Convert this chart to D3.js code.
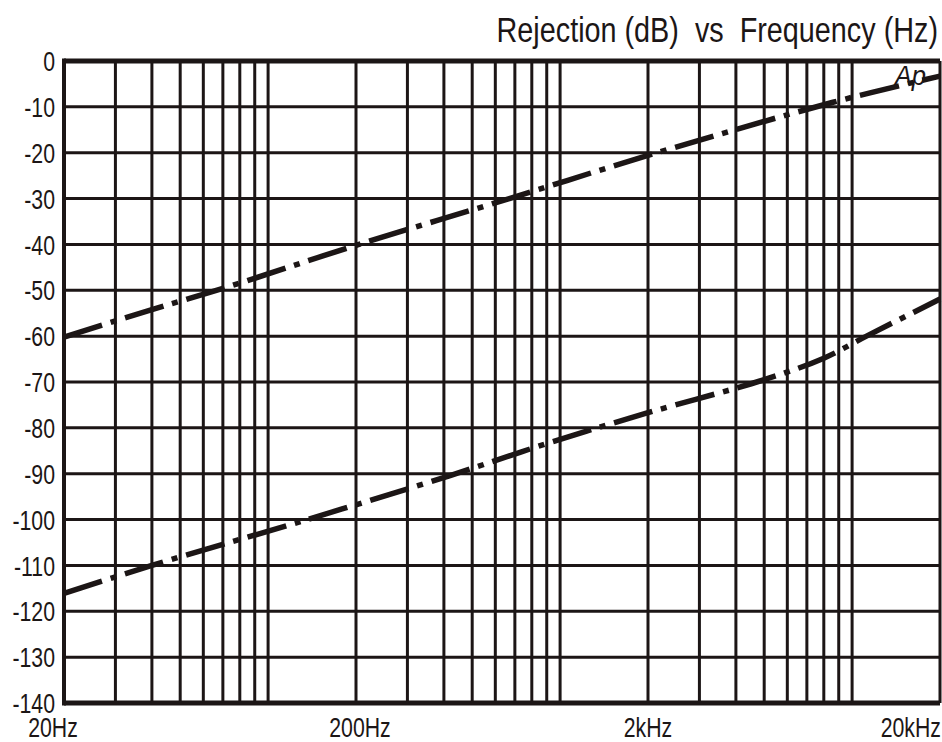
<!DOCTYPE html>
<html>
<head>
<meta charset="utf-8">
<script src="https://cdn.jsdelivr.net/npm/d3@7"></script>
<style>
  body { margin: 0; background: #fff; }
  text { font-family: "Liberation Sans", Arial, sans-serif; fill: #1c1616; }
</style>
</head>
<body>
<div class="chart"></div>
<script>
const svgWidth = 942;
const svgHeight = 742;

const margin = { top: 61, right: 2, bottom: 39, left: 64 };
const width = svgWidth - margin.left - margin.right;
const height = svgHeight - margin.top - margin.bottom;

const ink = '#1c1616';
// no narrow font installed, so squeeze the regular one sideways
const squeeze = 0.76;

// data
const xTickValues = [20, 200, 2000, 20000];
const xTickLabels = ['20Hz', '200Hz', '2kHz', '20kHz'];
const yTickValues = d3.range(0, -141, -10);

const upperFreq = [20, 40, 70, 200, 670, 2000, 8600, 20000];
const upperDb = [-60.2, -54.2, -49.6, -40.2, -30, -20.6, -9, -3.3];

const lowerFreq = [20, 40, 136, 420, 923, 2000, 5000, 8000, 11200, 20000];
const lowerDb = [-116.1, -110, -100, -90.4, -83.2, -76.7, -69.5, -64.8, -60, -51.9];

const svg = d3.select('.chart')
  .append('svg')
  .attr('width', svgWidth)
  .attr('height', svgHeight);

const chartGroup = svg.append('g')
  .attr('transform', `translate(${margin.left}, ${margin.top})`);

const x = d3.scaleLog().domain([20, 20000]).range([0, width]);
const y = d3.scaleLinear().domain([0, -140]).range([0, height]);

// vertical grid: 1..9 times each power of ten inside the range
const vLines = [];
[10, 100, 1000, 10000].forEach(base => {
  for (let k = 1; k <= 9; k++) {
    const f = base * k;
    if (f > 20 && f < 20000) vLines.push(f);
  }
});
vLines.push(20000);

chartGroup.append('g')
  .selectAll('line')
  .data(vLines)
  .enter()
  .append('line')
  .attr('x1', d => x(d))
  .attr('x2', d => x(d))
  .attr('y1', 0)
  .attr('y2', height)
  .attr('stroke', ink)
  .attr('stroke-width', 3);

chartGroup.append('g')
  .selectAll('line')
  .data(yTickValues)
  .enter()
  .append('line')
  .attr('x1', 0)
  .attr('x2', width)
  .attr('y1', d => y(d))
  .attr('y2', d => y(d))
  .attr('stroke', ink)
  .attr('stroke-width', d => (d === 0 || d === -140) ? 5 : 3);

// left border
chartGroup.append('line')
  .attr('x1', 0).attr('x2', 0)
  .attr('y1', -2.5).attr('y2', height + 2.5)
  .attr('stroke', ink)
  .attr('stroke-width', 4);

// y labels
chartGroup.append('g')
  .selectAll('text')
  .data(yTickValues)
  .enter()
  .append('text')
  .attr('transform', d => `translate(-9, ${y(d)}) scale(${squeeze}, 1)`)
  .attr('dy', '0.36em')
  .attr('text-anchor', 'end')
  .style('font-size', '28px')
  .text(d => d === 0 ? '0' : '-' + Math.abs(d));

// x labels (first one sits a bit left of its line, last one ends at the edge)
const xLabels = chartGroup.append('g')
  .selectAll('text')
  .data(xTickValues)
  .enter()
  .append('text')
  .attr('text-anchor', 'middle')
  .style('font-size', '28px')
  .text((d, i) => xTickLabels[i]);

xLabels.each(function(d, i) {
  const half = this.getComputedTextLength() * squeeze / 2;
  let cx = x(d);
  if (i === 0) cx -= 11;
  if (i === 1) cx += 4;
  cx = Math.min(cx, width + 1 - half);
  d3.select(this).attr('transform', `translate(${cx}, ${height + 34}) scale(${squeeze}, 1)`);
});

// curves
const line = d3.line()
  .x(d => x(d[0]))
  .y(d => y(d[1]))
  .curve(d3.curveCatmullRom.alpha(0.5));

[[upperFreq, upperDb], [lowerFreq, lowerDb]].forEach(([fs, dbs]) => {
  chartGroup.append('path')
    .datum(d3.zip(fs, dbs))
    .attr('d', line)
    .attr('fill', 'none')
    .attr('stroke', ink)
    .attr('stroke-width', 5.5)
    .attr('stroke-dasharray', '40 9 6 9');
});

// curve label
chartGroup.append('text')
  .attr('transform', `translate(${x(14000)}, ${y(-5.2)}) scale(0.95, 1)`)
  .style('font-style', 'italic')
  .style('font-size', '27px')
  .text('Ap');

// title
svg.append('text')
  .attr('transform', `translate(938, 42) scale(0.8, 1)`)
  .attr('text-anchor', 'end')
  .attr('xml:space', 'preserve')
  .style('white-space', 'pre')
  .style('font-size', '36px')
  .text('Rejection (dB)  vs  Frequency (Hz)');
</script>
</body>
</html>
